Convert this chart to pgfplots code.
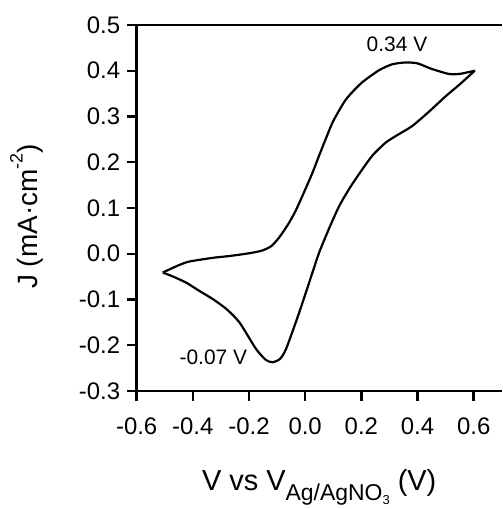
\documentclass[border=0pt]{standalone}
\usepackage{fontspec}
\setmainfont{Liberation Sans}
\usepackage{pgfplots}
\pgfplotsset{compat=1.18}
\begin{document}
\begin{tikzpicture}
\begin{axis}[
  name=ax,
  scale only axis,
  width=366pt, height=367pt,
  xmin=-0.6, xmax=0.7, ymin=-0.3, ymax=0.5,
  axis x line=box, axis y line=left,
  axis line style={-, line width=2.4pt},
  xtick={-0.6,-0.4,-0.2,0,0.2,0.4,0.6},
  ytick={-0.3,-0.2,-0.1,0,0.1,0.2,0.3,0.4,0.5},
  xtick pos=bottom, ytick pos=left,
  tick align=outside,
  major tick length=10pt,
  every tick/.style={black, line width=2.4pt},
  /pgf/number format/assume math mode=true,
  /pgf/number format/fixed, /pgf/number format/fixed zerofill, /pgf/number format/precision=1,
  tick label style={font=\fontsize{24}{28}\selectfont},
  xticklabel style={yshift=-13pt},
  yticklabel style={xshift=-3pt},
  xlabel={V vs V\raisebox{-0.35em}{\fontsize{23}{23}\selectfont Ag/AgNO\raisebox{-0.15em}{\fontsize{13}{13}\selectfont 3}} (V)},
  xlabel style={at={(axis description cs:0.5,-0.2725)}, anchor=base, font=\fontsize{29}{32}\selectfont},
  ylabel={J (mA·cm\raisebox{0.55em}{\fontsize{18}{18}\selectfont -2})},
  ylabel style={at={(axis description cs:-0.2705,0.477)}, anchor=base, font=\fontsize{28}{31}\selectfont},
  clip=false,
]
\addplot[black, line width=2.2pt, smooth, tension=0.4] coordinates {
(-0.507,-0.041) (-0.45,-0.025) (-0.412,-0.017) (-0.33,-0.009) (-0.27,-0.005)
(-0.2,0.001) (-0.153,0.007) (-0.12,0.017) (-0.092,0.036) (-0.06,0.065)
(-0.033,0.095) (0.0,0.140) (0.026,0.177) (0.05,0.215) (0.074,0.252)
(0.1,0.290) (0.145,0.337) (0.2,0.373) (0.263,0.401) (0.31,0.414)
(0.358,0.418) (0.40,0.416) (0.45,0.404) (0.511,0.393) (0.55,0.393) (0.604,0.400)
};
\addplot[black, line width=2.2pt, smooth, tension=0.4] coordinates {
(0.604,0.400) (0.55,0.370) (0.50,0.344) (0.44,0.310) (0.381,0.279)
(0.33,0.260) (0.287,0.243) (0.24,0.215) (0.203,0.184) (0.16,0.145)
(0.121,0.104) (0.085,0.055) (0.05,0.003) (0.026,-0.041) (-0.021,-0.128)
(-0.068,-0.208) (-0.09,-0.230) (-0.116,-0.237) (-0.14,-0.232) (-0.175,-0.208)
(-0.234,-0.150) (-0.28,-0.121) (-0.329,-0.099) (-0.38,-0.080) (-0.424,-0.063)
(-0.47,-0.050) (-0.507,-0.041)
};
\node[anchor=base, font=\fontsize{21}{23}\selectfont] at (axis cs:0.327,0.443) {0.34 V};
\node[anchor=base, font=\fontsize{21}{23}\selectfont] at (axis cs:-0.327,-0.241) {-0.07 V};
\end{axis}
\path ([xshift=-137pt,yshift=-117pt]ax.south west) rectangle ([yshift=25pt]ax.north east);
\end{tikzpicture}
\end{document}
